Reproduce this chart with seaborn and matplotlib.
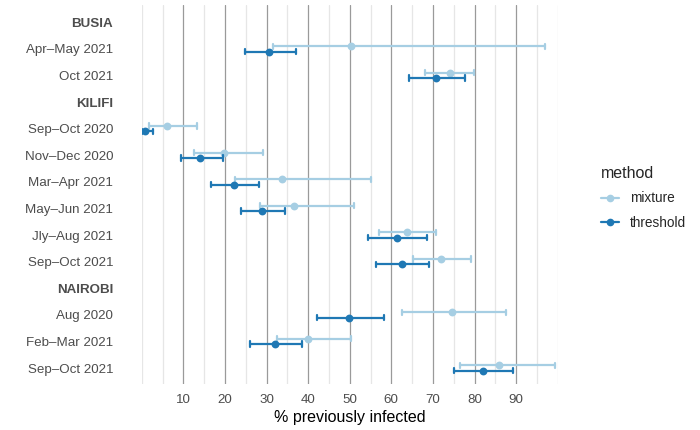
import numpy as np
import pandas as pd
import seaborn as sns
import matplotlib.pyplot as plt
from matplotlib.ticker import FixedLocator
from matplotlib.lines import Line2D

# ---- data ----
rows = ["BUSIA", "Apr\u2013May 2021", "Oct 2021",
        "KILIFI", "Sep\u2013Oct 2020", "Nov\u2013Dec 2020", "Mar\u2013Apr 2021",
        "May\u2013Jun 2021", "Jly\u2013Aug 2021", "Sep\u2013Oct 2021 ",
        "NAIROBI", "Aug 2020", "Feb\u2013Mar 2021", "Sep\u2013Oct 2021"]
headers = ["BUSIA", "KILIFI", "NAIROBI"]
data_rows = ["Apr\u2013May 2021", "Oct 2021",
             "Sep\u2013Oct 2020", "Nov\u2013Dec 2020", "Mar\u2013Apr 2021",
             "May\u2013Jun 2021", "Jly\u2013Aug 2021", "Sep\u2013Oct 2021 ",
             "Aug 2020", "Feb\u2013Mar 2021", "Sep\u2013Oct 2021"]

mixture_est = [50.3, 74.1, 6.1, 19.7, 33.7, 36.6, 63.7, 72.0, 74.5, 40.0, 86.0]
mixture_lo  = [31.5, 68.2, 1.7, 12.6, 22.5, 28.5, 57.1, 65.1, 62.5, 32.5, 76.6]
mixture_hi  = [97.0, 79.9, 13.4, 29.2, 55.1, 51.1, 70.7, 79.1, 87.6, 50.3, 99.4]

threshold_est = [30.5, 70.8, 0.9, 14.0, 22.3, 28.9, 61.3, 62.6, 49.8, 32.1, 82.1]
threshold_lo  = [24.8, 64.3, 0.1, 9.4, 16.7, 23.9, 54.4, 56.3, 42.1, 26.1, 75.1]
threshold_hi  = [37.2, 77.7, 2.7, 19.5, 28.1, 34.5, 68.5, 69.1, 58.2, 38.5, 89.3]

methods = ["mixture", "threshold"]
colors = ["#a6cee3", "#1f78b4"]
major_ticks = [10, 20, 30, 40, 50, 60, 70, 80, 90]

# long form: lo / est / hi per group -> median = est, min/max = interval
recs = []
for m, lo, est, hi in [("mixture", mixture_lo, mixture_est, mixture_hi),
                       ("threshold", threshold_lo, threshold_est, threshold_hi)]:
    for r, a, b, c in zip(data_rows, lo, est, hi):
        for v in (a, b, c):
            recs.append({"row": r, "method": m, "value": v})
df = pd.DataFrame(recs)

sns.set_theme(style="white")
plt.rcParams['font.family'] = ['Liberation Sans', 'DejaVu Sans']

fig = plt.figure(figsize=(7, 4.3), dpi=100)
ax = fig.add_axes([141.7/700, 1-384/430, 416/700, (384-5)/430])

sns.pointplot(data=df, x="value", y="row", hue="method", order=rows,
              hue_order=methods, palette=colors, estimator="median",
              errorbar=("pi", 100), dodge=0.2, linestyle="none",
              markers="o", markersize=3.6, capsize=0.2,
              err_kws={"linewidth": 1.6}, ax=ax, orient="h")

ax.set_xlim(0, 100)
ax.set_ylim(13.6, -0.65)
ax.xaxis.set_major_locator(FixedLocator(major_ticks))
ax.xaxis.set_minor_locator(FixedLocator([0, 5, 15, 25, 35, 45, 55, 65, 75, 85, 95, 100]))
ax.grid(axis="x", which="major", color="#9a9a9a", linewidth=0.9)
ax.grid(axis="x", which="minor", color="#e6e6e6", linewidth=0.9)
ax.grid(axis="y", visible=False)
ax.set_axisbelow(True)
for s in ax.spines.values():
    s.set_visible(False)
ax.tick_params(axis="both", which="both", length=0, labelsize=9.6,
               labelcolor="#4d4d4d")
ax.tick_params(axis="x", pad=7)
ax.tick_params(axis="y", pad=20.5)
ax.set_ylabel("")
ax.set_xlabel("% previously infected", fontsize=11.5, color="black", labelpad=3)
ax.set_yticks(range(len(rows)))
ax.set_yticklabels([r.strip() for r in rows])
for lbl, r in zip(ax.get_yticklabels(), rows):
    if r in headers:
        lbl.set_fontweight("bold")
        lbl.set_color("#4d4d4d")

if ax.get_legend() is not None:
    ax.get_legend().remove()
handles = [Line2D([0], [0], color=c, marker="o", markersize=4.5, linewidth=1.6)
           for c in colors]
leg = fig.legend(handles, methods, title="method", loc="upper left",
                 bbox_to_anchor=(589/700, 1-154/430), frameon=False,
                 fontsize=9.8, title_fontsize=11.5, handlelength=1.3,
                 labelspacing=0.75, handletextpad=0.8)
leg._legend_box.align = "left"

fig.savefig("out.png", dpi=100)
